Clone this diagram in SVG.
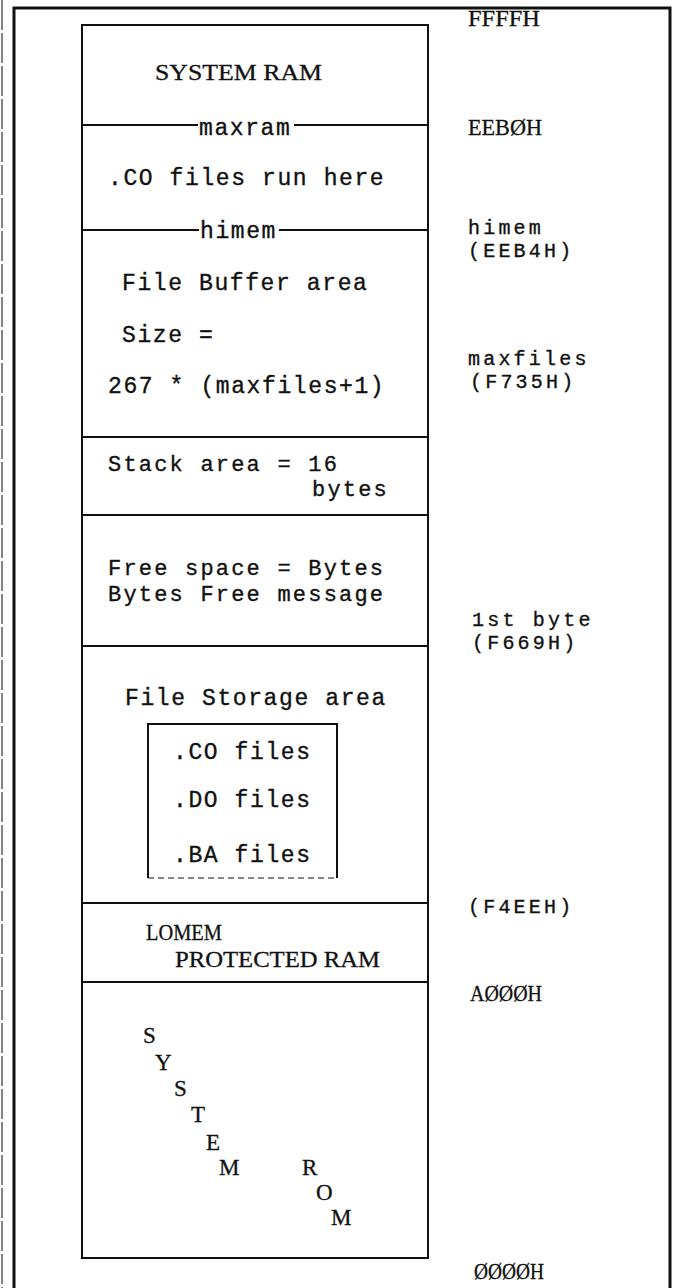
<svg xmlns="http://www.w3.org/2000/svg" width="681" height="1288" viewBox="0 0 681 1288">
<style>
.m{font-family:"Liberation Mono","Courier New",monospace;font-size:23px;letter-spacing:1.6px;fill:#111;stroke:#111;stroke-width:0.35}
.t{font-family:"Liberation Mono","Courier New",monospace;font-size:22px;letter-spacing:2.2px;fill:#111;stroke:#111;stroke-width:0.35}
.r{font-family:"Liberation Mono","Courier New",monospace;font-size:20px;letter-spacing:3.2px;fill:#111;stroke:#111;stroke-width:0.35}
.s{font-family:"Liberation Serif","Times New Roman",serif;font-size:23px;fill:#111;stroke:#111;stroke-width:0.3}
.box{stroke:#111;stroke-width:2;fill:none}
.frame{stroke:#111;stroke-width:3;fill:none}
</style>
<rect width="681" height="1288" fill="#fff"/>
<path d="M2,0 V1288" stroke="#333" stroke-width="1.2" stroke-dasharray="30,3"/>
<path class="frame" d="M14,1288 V8 H670 V1288"/>

<g id="system-ram">
<rect class="box" x="82" y="25" width="346" height="100"/>
<text class="s" x="155" y="80" font-size="19" textLength="167" lengthAdjust="spacingAndGlyphs">SYSTEM RAM</text>
</g>
<g id="co-run">
<rect class="box" x="82" y="125" width="346" height="105"/>
<text class="m" x="108" y="185">.CO files run here</text>
</g>
<g id="file-buffer">
<rect class="box" x="82" y="230" width="346" height="207"/>
<text class="m" x="122" y="290">File Buffer area</text>
<text class="m" x="122" y="342">Size =</text>
<text class="m" x="108" y="393">267 * (maxfiles+1)</text>
</g>
<g id="stack">
<rect class="box" x="82" y="437" width="346" height="78"/>
<text class="t" x="108" y="471">Stack area = 16</text>
<text class="t" x="312" y="496">bytes</text>
</g>
<g id="free-space">
<rect class="box" x="82" y="515" width="346" height="131"/>
<text class="t" x="108" y="575">Free space = Bytes</text>
<text class="t" x="108" y="601">Bytes Free message</text>
</g>
<g id="file-storage">
<rect class="box" x="82" y="646" width="346" height="257"/>
<text class="m" x="125" y="705">File Storage area</text>
<path class="box" d="M148,878 V724 H337 V878"/>
<path d="M148,878 H337" stroke="#111" stroke-width="1" stroke-dasharray="6,4"/>
<text class="m" x="173" y="759">.CO files</text>
<text class="m" x="173" y="807">.DO files</text>
<text class="m" x="173" y="862">.BA files</text>
</g>
<g id="protected-ram">
<rect class="box" x="82" y="903" width="346" height="79"/>
<text class="s" x="146" y="940" textLength="76" lengthAdjust="spacingAndGlyphs">LOMEM</text>
<text class="s" x="175" y="967" textLength="205" lengthAdjust="spacingAndGlyphs">PROTECTED RAM</text>
</g>
<g id="system-rom">
<rect class="box" x="82" y="982" width="346" height="276"/>
<text class="s" x="143" y="1043">S</text>
<text class="s" x="155" y="1070">Y</text>
<text class="s" x="174" y="1096">S</text>
<text class="s" x="191" y="1122">T</text>
<text class="s" x="206" y="1150">E</text>
<text class="s" x="219" y="1175">M</text>
<text class="s" x="302" y="1175">R</text>
<text class="s" x="316" y="1200">O</text>
<text class="s" x="331" y="1225">M</text>
</g>

<g id="boundary-labels">
<rect x="198" y="121" width="96" height="8" fill="#fff"/>
<text class="m" x="199" y="135">maxram</text>
<rect x="199" y="226" width="80" height="8" fill="#fff"/>
<text class="m" x="200" y="238">himem</text>
</g>

<g id="addresses">
<text class="s" x="468" y="26" font-size="24" textLength="72" lengthAdjust="spacingAndGlyphs">FFFFH</text>
<text class="s" x="468" y="135" font-size="24" textLength="74" lengthAdjust="spacingAndGlyphs">EEBØH</text>
<text class="r" x="468" y="234">himem</text>
<text class="r" x="468" y="257">(EEB4H)</text>
<text class="r" x="468" y="365">maxfiles</text>
<text class="r" x="470" y="388">(F735H)</text>
<text class="r" x="472" y="626">1st byte</text>
<text class="r" x="472" y="649">(F669H)</text>
<text class="r" x="468" y="913">(F4EEH)</text>
<text class="s" x="470" y="1001" font-size="24" textLength="72" lengthAdjust="spacingAndGlyphs">AØØØH</text>
<text class="s" x="474" y="1279" font-size="24" textLength="70" lengthAdjust="spacingAndGlyphs">ØØØØH</text>
</g>
</svg>
